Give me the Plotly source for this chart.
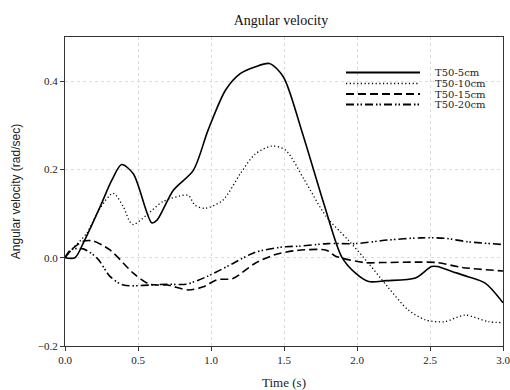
import plotly.graph_objects as go

# ---- data ----
x5 = [0, 0.068, 0.125, 0.24, 0.32, 0.388, 0.468, 0.594, 0.63, 0.742, 0.879, 0.98, 1.1, 1.2, 1.3, 1.4, 1.495, 1.62, 1.78, 1.895, 1.99, 2.08, 2.2, 2.40, 2.51, 2.55, 2.65, 2.76, 2.88, 3.0]
y5 = [0, 0.0, 0.033, 0.115, 0.175, 0.211, 0.19, 0.079, 0.085, 0.153, 0.198, 0.289, 0.38, 0.417, 0.432, 0.44, 0.41, 0.289, 0.115, 0.002, -0.035, -0.054, -0.052, -0.046, -0.02, -0.02, -0.031, -0.043, -0.058, -0.102]

x10 = [0, 0.05, 0.148, 0.24, 0.33, 0.4, 0.445, 0.47, 0.56, 0.67, 0.82, 0.85, 0.89, 0.96, 1.08, 1.2, 1.3, 1.415, 1.51, 1.64, 1.79, 1.94, 2.08, 2.21, 2.35, 2.47, 2.6, 2.74, 2.9, 3.0]
y10 = [0, 0.02, 0.055, 0.112, 0.146, 0.115, 0.081, 0.075, 0.097, 0.127, 0.142, 0.14, 0.119, 0.112, 0.13, 0.19, 0.234, 0.253, 0.244, 0.176, 0.093, 0.04, -0.013, -0.066, -0.118, -0.141, -0.145, -0.13, -0.145, -0.147]

x15 = [0, 0.05, 0.125, 0.19, 0.31, 0.468, 0.58, 0.7, 0.845, 0.947, 1.04, 1.15, 1.3, 1.43, 1.575, 1.79, 1.85, 2.05, 2.17, 2.4, 2.55, 2.72, 3.0]
y15 = [0, 0.02, 0.037, 0.038, 0.017, -0.035, -0.06, -0.062, -0.073, -0.066, -0.05, -0.047, -0.013, 0.006, 0.016, 0.017, 0.004, -0.011, -0.011, -0.01, -0.011, -0.022, -0.030]

x20 = [0, 0.04, 0.125, 0.22, 0.31, 0.4, 0.58, 0.7, 0.83, 0.97, 1.15, 1.3, 1.51, 1.6, 1.8, 1.99, 2.21, 2.44, 2.6, 2.76, 3.0]
y20 = [0, 0.018, 0.02, -0.001, -0.043, -0.062, -0.062, -0.06, -0.06, -0.043, -0.013, 0.012, 0.025, 0.026, 0.032, 0.032, 0.04, 0.045, 0.044, 0.036, 0.030]

names = ["T50-5cm", "T50-10cm", "T50-15cm", "T50-20cm"]
xs = [x5, x10, x15, x20]
ys = [y5, y10, y15, y20]

x_ticks = [0.0, 0.5, 1.0, 1.5, 2.0, 2.5, 3.0]
y_ticks = [-0.2, 0.0, 0.2, 0.4]

# ---- styles ----
dashes = ["solid", "1.2px,2.5px", "8px,4px", "8px,3px,1.5px,2px,1.5px,3px"]
widths = [1.6, 1.3, 1.6, 1.6]
serif = "Liberation Serif, Times New Roman, serif"

fig = go.Figure()
for n, xv, yv, d, w in zip(names, xs, ys, dashes, widths):
    fig.add_trace(go.Scatter(x=xv, y=yv, mode="lines", name=n, line_shape="spline",
                             line=dict(color="black", width=w, dash=d, smoothing=0.8),
                             showlegend=False))

# manual legend (paper coordinates, matching the compact reference legend)
plot_l, plot_r, plot_t, plot_b = 65, 503, 37, 346
W, H = 510, 390
def px2paper_x(p):
    return (p - plot_l) / (plot_r - plot_l)
def px2paper_y(p):
    return (plot_b - p) / (plot_b - plot_t)
row_y = [72.5, 83.5, 94, 104.5]
for n, d, w, ry in zip(names, dashes, widths, row_y):
    fig.add_shape(type="line", xref="paper", yref="paper",
                  x0=px2paper_x(346), x1=px2paper_x(420), y0=px2paper_y(ry), y1=px2paper_y(ry),
                  line=dict(color="black", width=w + 0.2, dash=d))
    fig.add_annotation(xref="paper", yref="paper", x=px2paper_x(434), y=px2paper_y(ry),
                       text=n, showarrow=False, xanchor="left", yanchor="middle", borderpad=0,
                       font=dict(family="DejaVu Serif, serif", size=10, color="#222"))

axis_common = dict(showline=True, linecolor="#333", linewidth=1, mirror=True,
                   ticks="outside", ticklen=4, tickcolor="#333", automargin=False,
                   ticklabeloverflow="allow",
                   showgrid=True, gridcolor="#dcdcdc", griddash="dot", gridwidth=1,
                   zeroline=False, tickfont=dict(family=serif, size=11, color="#222"))

fig.update_layout(
    width=W, height=H,
    margin=dict(l=plot_l, r=W - plot_r, t=plot_t, b=H - plot_b),
    paper_bgcolor="white", plot_bgcolor="white",
    title=dict(text="Angular velocity", x=(281) / W, xanchor="center", y=1 - 20 / H, yanchor="middle",
               font=dict(family=serif, size=14, color="#111")),
    xaxis=dict(range=[0, 3.0], tickvals=x_ticks, tickformat=".1f",
               title=dict(text="Time (s)", font=dict(family=serif, size=13, color="#222"), standoff=18),
               **axis_common),
    yaxis=dict(range=[-0.2, 0.5], tickvals=y_ticks, tickformat=".1f",
               title=dict(text="Angular velocity (rad/sec)",
                          font=dict(family="Liberation Sans, Arial, sans-serif", size=12, color="#222"),
                          standoff=14),
               **axis_common),
)

fig.write_html("out.html")
